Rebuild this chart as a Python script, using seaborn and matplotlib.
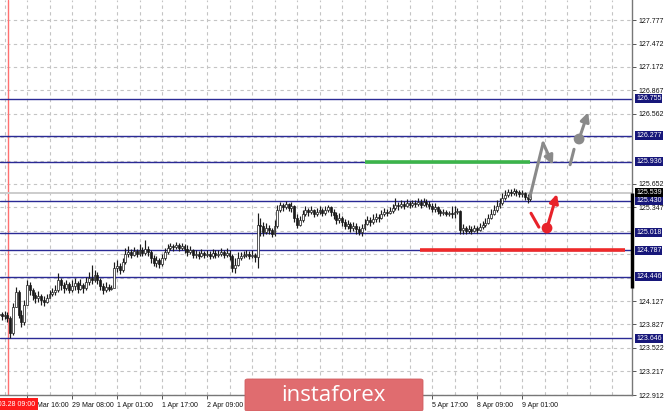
import numpy as np
import pandas as pd
import matplotlib
matplotlib.use("Agg")
import matplotlib.pyplot as plt
import seaborn as sns
from matplotlib.patches import FancyBboxPatch

# hourly candles, bar 0 = 28 Mar 06:00
close = [123.96, 123.94, 123.95, 123.91, 123.72, 124.05, 124.25, 123.95, 123.86, 124.08,
         124.34, 124.27, 124.21, 124.17, 124.20, 124.14, 124.12, 124.17, 124.22, 124.25,
         124.27, 124.40, 124.34, 124.30, 124.35, 124.27, 124.33, 124.37, 124.29, 124.34,
         124.30, 124.38, 124.43, 124.40, 124.47, 124.40, 124.33, 124.27, 124.31, 124.29,
         124.30, 124.56, 124.59, 124.53, 124.64, 124.74, 124.77, 124.73, 124.78, 124.74,
         124.79, 124.75, 124.81, 124.77, 124.69, 124.62, 124.66, 124.61, 124.69, 124.77,
         124.82, 124.85, 124.83, 124.86, 124.82, 124.85, 124.81, 124.77, 124.79, 124.73,
         124.74, 124.72, 124.75, 124.73, 124.74, 124.72, 124.75, 124.73, 124.74, 124.77,
         124.73, 124.75, 124.72, 124.56, 124.60, 124.69, 124.72, 124.73, 124.74, 124.72,
         124.73, 124.70, 125.12, 125.10, 125.03, 125.08, 125.05, 125.00, 125.10, 125.31,
         125.38, 125.35, 125.39, 125.34, 125.36, 125.21, 125.12, 125.18, 125.26, 125.31,
         125.29, 125.31, 125.26, 125.29, 125.31, 125.27, 125.31, 125.35, 125.29, 125.25,
         125.18, 125.21, 125.16, 125.10, 125.13, 125.08, 125.10, 125.07, 125.03, 125.08,
         125.13, 125.18, 125.16, 125.20, 125.22, 125.21, 125.26, 125.29, 125.27, 125.30,
         125.34, 125.38, 125.36, 125.39, 125.36, 125.40, 125.38, 125.40, 125.39, 125.42,
         125.38, 125.42, 125.39, 125.36, 125.32, 125.35, 125.30, 125.27, 125.29, 125.26,
         125.27, 125.26, 125.29, 125.30, 125.05, 125.08, 125.04, 125.07, 125.04, 125.08,
         125.05, 125.09, 125.12, 125.14, 125.21, 125.26, 125.31, 125.36, 125.40, 125.47,
         125.51, 125.55, 125.53, 125.56, 125.55, 125.52, 125.53, 125.48, 125.45, 125.539]

high = [124.01, 123.99, 124.00, 123.99, 123.94, 124.11, 124.31, 124.27, 124.01, 124.14,
        124.40, 124.38, 124.30, 124.25, 124.26, 124.22, 124.20, 124.22, 124.27, 124.30,
        124.34, 124.50, 124.43, 124.38, 124.40, 124.38, 124.40, 124.43, 124.39, 124.42,
        124.37, 124.44, 124.51, 124.60, 124.53, 124.51, 124.43, 124.37, 124.38, 124.35,
        124.34, 124.64, 124.66, 124.62, 124.69, 124.82, 124.85, 124.81, 124.83, 124.81,
        124.87, 124.83, 124.92, 124.85, 124.79, 124.73, 124.72, 124.69, 124.74, 124.82,
        124.87, 124.88, 124.87, 124.90, 124.88, 124.88, 124.87, 124.86, 124.85, 124.81,
        124.79, 124.78, 124.81, 124.78, 124.79, 124.78, 124.81, 124.79, 124.79, 124.82,
        124.79, 124.82, 124.79, 124.74, 124.69, 124.77, 124.77, 124.78, 124.79, 124.78,
        124.79, 124.75, 125.27, 125.21, 125.16, 125.14, 125.12, 125.08, 125.18, 125.38,
        125.42, 125.40, 125.43, 125.40, 125.42, 125.38, 125.26, 125.23, 125.31, 125.36,
        125.34, 125.36, 125.32, 125.34, 125.36, 125.34, 125.36, 125.38, 125.36, 125.32,
        125.29, 125.27, 125.23, 125.20, 125.18, 125.16, 125.16, 125.14, 125.10, 125.13,
        125.20, 125.23, 125.22, 125.26, 125.27, 125.26, 125.31, 125.34, 125.32, 125.35,
        125.39, 125.47, 125.42, 125.44, 125.43, 125.45, 125.43, 125.44, 125.44, 125.47,
        125.45, 125.47, 125.45, 125.43, 125.40, 125.40, 125.36, 125.32, 125.32, 125.31,
        125.30, 125.36, 125.36, 125.34, 125.31, 125.13, 125.10, 125.12, 125.10, 125.12,
        125.10, 125.14, 125.17, 125.21, 125.26, 125.32, 125.38, 125.44, 125.47, 125.53,
        125.57, 125.58, 125.58, 125.60, 125.58, 125.57, 125.57, 125.55, 125.52, 125.57]

low = [123.91, 123.89, 123.90, 123.86, 123.65, 123.69, 124.05, 123.91, 123.79, 123.82,
       124.08, 124.21, 124.14, 124.11, 124.12, 124.08, 124.07, 124.11, 124.17, 124.20,
       124.21, 124.25, 124.27, 124.24, 124.27, 124.24, 124.25, 124.27, 124.24, 124.27,
       124.24, 124.27, 124.34, 124.35, 124.38, 124.35, 124.27, 124.22, 124.25, 124.26,
       124.27, 124.47, 124.51, 124.48, 124.51, 124.61, 124.70, 124.69, 124.72, 124.70,
       124.72, 124.72, 124.73, 124.72, 124.62, 124.59, 124.57, 124.56, 124.59, 124.66,
       124.74, 124.79, 124.78, 124.81, 124.78, 124.79, 124.75, 124.72, 124.74, 124.69,
       124.69, 124.68, 124.70, 124.69, 124.70, 124.68, 124.69, 124.69, 124.70, 124.72,
       124.69, 124.70, 124.66, 124.51, 124.50, 124.59, 124.66, 124.69, 124.70, 124.68,
       124.69, 124.64, 124.56, 124.98, 124.98, 125.00, 125.00, 124.96, 124.98, 125.08,
       125.29, 125.30, 125.32, 125.30, 125.29, 125.16, 125.08, 125.10, 125.16, 125.23,
       125.23, 125.26, 125.22, 125.23, 125.26, 125.23, 125.25, 125.29, 125.23, 125.20,
       125.13, 125.14, 125.10, 125.07, 125.07, 125.03, 125.04, 125.00, 124.99, 124.98,
       125.05, 125.12, 125.10, 125.13, 125.16, 125.16, 125.20, 125.23, 125.23, 125.26,
       125.27, 125.31, 125.31, 125.34, 125.32, 125.35, 125.34, 125.35, 125.35, 125.36,
       125.34, 125.36, 125.35, 125.32, 125.29, 125.29, 125.26, 125.23, 125.25, 125.23,
       125.23, 125.21, 125.21, 125.26, 125.00, 125.00, 125.00, 125.01, 125.00, 125.03,
       125.01, 125.04, 125.07, 125.09, 125.13, 125.20, 125.25, 125.29, 125.34, 125.38,
       125.44, 125.48, 125.49, 125.51, 125.49, 125.48, 125.48, 125.44, 125.40, 125.43]

time_bars = [10, 26, 42, 58, 74, 90, 106, 122, 138, 154, 170, 186]
# labels at bars 90-138 sit under the watermark and are not visible
time_labels = ["28 Mar 16:00", "29 Mar 08:00", "1 Apr 01:00", "1 Apr 17:00",
               "2 Apr 09:00", "", "", "", "", "5 Apr 17:00", "8 Apr 09:00", "9 Apr 01:00"]

grid_prices = [127.777, 127.472, 127.172, 126.867, 126.562, 126.257, 125.952,
               125.652, 125.347, 125.042, 124.737, 124.432, 124.127, 123.827,
               123.522, 123.217, 122.912]
# grid prices whose labels are not covered by level boxes
price_ticks = [127.777, 127.472, 127.172, 126.867, 126.562, 125.652, 125.347,
               124.127, 123.827, 123.522, 123.217, 122.912]
levels = [126.755, 126.277, 125.936, 125.430, 125.018, 124.787, 124.446, 123.646]
bid = 125.539

green_level = 125.936
green_span = [130.2, 188.8]
red_level = 124.787
red_span = [149.7, 222.6]

# scenario arrows (bar index, price)
gray_up = [(188.8, 125.48), (193.5, 126.18), (197.0, 125.90)]
gray_dash = [(203.1, 125.90), (204.5, 126.10)]
gray_dot = (206.3, 126.233)
gray_tip = (209.5, 126.58)
red_dash = [(189.2, 125.27), (192.0, 125.09)]
red_dot = (194.9, 125.078)
red_tip = (198.4, 125.52)

df = pd.DataFrame({"close": close, "high": high, "low": low})
df["bar"] = np.arange(len(df))
df["open"] = df["close"].shift(1).fillna(123.95)
df["up"] = df["close"] >= df["open"]

sns.set_theme(style="white")
plt.rcParams["font.family"] = ["Liberation Sans", "DejaVu Sans"]

fig = plt.figure(figsize=(6.65, 4.11), dpi=100)
ax = fig.add_axes([0, 16 / 411, 632 / 665, 395 / 411])
ax.set_xlim(0.4, 0.4 + 632 / 2.8125)
ax.set_ylim(122.912, 128.037)

grid_kw = dict(color="#c4c4c4", lw=0.8, ls=(0, (3, 3)), zorder=0)
for p in grid_prices:
    ax.axhline(p, **grid_kw)
for b in range(2, 226, 8):
    ax.axvline(b, **grid_kw)

# period separator
ax.axvline(3.3, color="#ff7070", lw=1, zorder=1)

for lv in levels:
    ax.axhline(lv, color="#2a2a95", lw=1, zorder=1)
ax.axhline(bid, color="#cccccc", lw=1.4, zorder=1)

# candles
ax.vlines(df["bar"], df["low"], df["high"], color="#1a1a1a", lw=0.85, zorder=3)
body_lo = df[["open", "close"]].min(axis=1)
body_h = (df["close"] - df["open"]).abs().clip(lower=0.006)
ax.bar(df["bar"], body_h, bottom=body_lo, width=0.7,
       color=np.where(df["up"], "white", "#1a1a1a"), edgecolor="#1a1a1a",
       linewidth=0.5, zorder=4)

ax.plot(green_span, [green_level] * 2, color="#3cb44a", lw=2.6, solid_capstyle="butt", zorder=2)
ax.plot(red_span, [red_level] * 2, color="#ee2a2a", lw=2.6, solid_capstyle="butt", zorder=2)

gray = "#8a8a8a"
red = "#e8222a"
arrow_kw = dict(arrowstyle="-|>", lw=2.2, mutation_scale=13, shrinkA=0, shrinkB=0)
ax.plot([p[0] for p in gray_up[:2]], [p[1] for p in gray_up[:2]], color=gray, lw=2.2, zorder=5)
ax.annotate("", xy=gray_up[2], xytext=gray_up[1], arrowprops=dict(color=gray, **arrow_kw), zorder=5)
ax.plot([p[0] for p in gray_dash], [p[1] for p in gray_dash], color=gray, lw=2.2, zorder=5)
ax.annotate("", xy=gray_tip, xytext=gray_dot, arrowprops=dict(color=gray, **arrow_kw), zorder=5)
ax.plot([p[0] for p in red_dash], [p[1] for p in red_dash], color=red, lw=2.2, zorder=5)
ax.annotate("", xy=red_tip, xytext=red_dot, arrowprops=dict(color=red, **arrow_kw), zorder=5)
dots = pd.DataFrame({"x": [gray_dot[0], red_dot[0]], "y": [gray_dot[1], red_dot[1]],
                     "c": ["gray", "red"]})
sns.scatterplot(data=dots, x="x", y="y", hue="c", palette={"gray": gray, "red": red},
                s=60, edgecolor="none", legend=False, ax=ax, zorder=6)
ax.set_xlabel("")
ax.set_ylabel("")

# axes styling
for side in ["top", "left"]:
    ax.spines[side].set_visible(False)
for side in ["right", "bottom"]:
    ax.spines[side].set_color("#777777")
    ax.spines[side].set_linewidth(1)

ax.yaxis.tick_right()
ax.set_yticks(price_ticks)
ax.set_yticklabels([f"{p:.3f}" for p in price_ticks])
ax.set_xticks(time_bars)
ax.set_xticklabels(time_labels, ha="left")
ax.tick_params(axis="both", which="both", direction="out", length=3, width=0.7,
               color="#555555", labelsize=5, labelcolor="#111111")
ax.tick_params(axis="y", pad=2, right=True, left=False)
ax.tick_params(axis="x", pad=2, bottom=True)

ytr = ax.get_yaxis_transform()
box_x = 1 + 4 / 632
for lv in levels:
    ax.text(box_x, lv, f"{lv:.3f}", transform=ytr, fontsize=5, color="white",
            va="center", ha="left", clip_on=False, zorder=10,
            bbox=dict(boxstyle="square,pad=0.15", fc="#17177a", ec="none"))
ax.text(box_x, bid, f"{bid:.3f}", transform=ytr, fontsize=5, color="white",
        va="center", ha="left", clip_on=False, zorder=10,
        bbox=dict(boxstyle="square,pad=0.15", fc="black", ec="none"))
ax.plot([1, 1], [bid, 124.30], transform=ytr, color="black", lw=2.5,
        clip_on=False, zorder=9, solid_capstyle="butt")

# crosshair time label
fig.text(8 / 665, 7 / 411, "2019.03.28 09:00", fontsize=5, color="white",
         ha="center", va="center", zorder=8,
         bbox=dict(boxstyle="square,pad=0.3", fc="#ff1a1a", ec="none"))

# watermark
fig.patches.append(FancyBboxPatch((245 / 665, 0), 178 / 665, 32 / 411,
                                  boxstyle="round,pad=0,rounding_size=0.004",
                                  transform=fig.transFigure, fc="#e06c6f",
                                  ec="#d05c60", lw=0.6, zorder=20))
fig.text(333 / 665, 16 / 411, "instaforex", fontsize=16, color="white",
         family="Open Sans", ha="center", va="center", zorder=21)

fig.savefig("out.png", dpi=100, facecolor="white")
